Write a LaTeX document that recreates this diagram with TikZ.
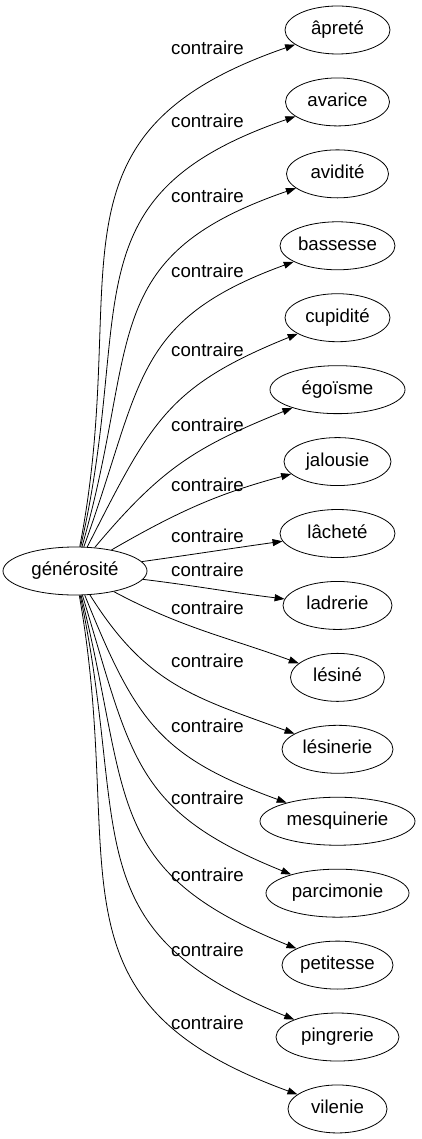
\documentclass[tikz,border=0pt]{standalone}
\usepackage{fontspec}
\setmainfont{Liberation Sans}
\usetikzlibrary{arrows.meta,shapes.geometric}
\begin{document}
\begin{tikzpicture}[x=1pt,y=1pt,line width=0.8pt,>={Triangle[length=10pt,width=7pt]},
		font=\fontsize{18.67}{22}\selectfont,
		mot/.style={draw,ellipse,inner sep=0pt,minimum height=48pt,text height=13pt,text depth=4pt},
		rel/.style={inner sep=0pt,text height=13pt,text depth=4pt}]
	\useasboundingbox (0,0) rectangle (421,-1139);
	\node[mot,minimum width=144pt] (gen) at (75,-571) {générosité};
	% cibles : numero/nom/texte/largeur/y etiquette/angle sortie/angle entree/tension
	\foreach \i/\nom/\mot/\larg/\ly/\a/\b/\t in {
			1/apr/âpreté/105/50/79/199/1.3,
			2/ava/avarice/104/123/77/199/1.3,
			3/avi/avidité/102/198/74/199/1.3,
			4/bas/bassesse/115/273/70/200/1.25,
			5/cup/cupidité/105/352/63/202/1.2,
			6/ego/égoïsme/135/427/50/202/1.1,
			7/jal/jalousie/107/487/30/195/1,
			8/lac/lâcheté/115/538/8/188/1,
			9/lad/ladrerie/109/572/-7/173/1,
			10/lsn/lésiné/94/610/-28/160/1,
			11/lsr/lésinerie/111/663/-58/160/1.1,
			12/mes/mesquinerie/155/728/-68/160/1.2,
			13/par/parcimonie/143/800/-73/158/1.25,
			14/pet/petitesse/111/877/-76/158/1.3,
			15/pin/pingrerie/123/952/-78/158/1.3,
			16/vil/vilenie/99/1025/-80/160/1.3}{
		\node[mot,minimum width=\larg pt] (\nom) at (337.5,{-30-71.93*(\i-1)}) {\mot};
		\node[rel] (c\nom) at (207.5,-\ly) {contraire};
		\draw[->] (gen) to[out=\a,in=\b,looseness=\t] (\nom);
	}
\end{tikzpicture}
\end{document}
